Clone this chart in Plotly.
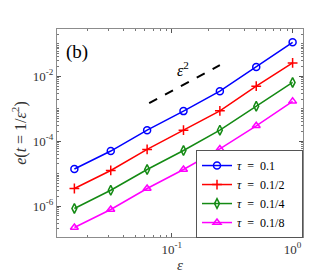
import plotly.graph_objects as go

eps = [1/64, 1/32, 1/16, 1/8, 1/4, 1/2, 1]
err_tau1 = [1.4e-5, 5.0e-5, 2.2e-4, 8.5e-4, 3.5e-3, 1.95e-2, 0.112]
err_tau2 = [3.5e-6, 1.26e-5, 5.6e-5, 2.2e-4, 8.7e-4, 5.0e-3, 0.026]
err_tau4 = [8.5e-7, 3.1e-6, 1.35e-5, 5.2e-5, 2.2e-4, 1.2e-3, 6.5e-3]
err_tau8 = [2.2e-7, 7.9e-7, 3.5e-6, 1.35e-5, 5.8e-5, 3.0e-4, 1.7e-3]
labels = ["<i>τ</i>\u2002=\u20020.1\u2003", "<i>τ</i>\u2002=\u20020.1/2\u2003",
          "<i>τ</i>\u2002=\u20020.1/4\u2003", "<i>τ</i>\u2002=\u20020.1/8\u2003"]
ref_x = [0.065, 0.25]
ref_y = [0.355 * x**2 for x in ref_x]

colors = ["#0000ff", "#ff0000", "#138a13", "#ff00ff"]
symbols = ["circle-open", "cross-thin-open", "diamond-tall-open", "triangle-up-open"]
series = [err_tau1, err_tau2, err_tau4, err_tau8]

fig = go.Figure()
for y, c, s, lab in zip(series, colors, symbols, labels):
    fig.add_trace(go.Scatter(
        x=eps, y=y, mode="lines+markers", name=lab,
        line=dict(color=c, width=1.5),
        marker=dict(symbol=s, size=7, color=c, line=dict(color=c, width=1.5)),
    ))

fig.add_trace(go.Scatter(x=ref_x, y=ref_y, mode="lines", showlegend=False,
                         line=dict(color="black", width=2, dash="dash")))

fig.add_annotation(x=-0.91, y=-1.77, xref="x", yref="y", text="<i>ε</i><sup>2</sup>",
                   showarrow=False, font=dict(size=16, family="Liberation Serif", color="black"))
fig.add_annotation(x=0.03, y=0.95, xref="paper", yref="paper", text="(b)",
                   showarrow=False, xanchor="left", yanchor="top",
                   font=dict(size=19, family="Liberation Serif", color="black"))

minor_x = [m * 10**k for k in (-2, -1) for m in range(1, 10)] + [1]
minor_y = [m * 10**k for k in range(-7, 0) for m in range(1, 10)]

axis_common = dict(
    showgrid=False, zeroline=False, showline=True, linecolor="#8c8c8c", linewidth=1,
    mirror="ticks", ticks="inside", ticklen=4, tickcolor="#555555",
    tickfont=dict(family="Liberation Serif", size=13, color="#333333"),
)

fig.update_xaxes(type="log", range=[-1.95, 0.086],
                 tickvals=[0.1, 1], ticktext=["10<sup>-1</sup>", "10<sup>0</sup>"],
                 minor=dict(tickvals=minor_x, ticks="inside", ticklen=2, tickcolor="#777777"),
                 title=dict(text="<i>ε</i>", font=dict(family="Liberation Serif", size=15, color="#333333"), standoff=2),
                 **axis_common)
fig.update_yaxes(type="log", range=[-6.95, -0.54],
                 tickvals=[1e-6, 1e-4, 1e-2],
                 ticktext=["10<sup>-6</sup>", "10<sup>-4</sup>", "10<sup>-2</sup>"],
                 minor=dict(tickvals=minor_y, ticks="inside", ticklen=2, tickcolor="#777777"),
                 title=dict(text="<i>e</i>(<i>t</i> = 1/<i>ε</i><sup>2</sup>)",
                            font=dict(family="Liberation Serif", size=16, color="#333333"), standoff=2),
                 **axis_common)

fig.update_layout(
    width=327, height=273,
    margin=dict(l=42, r=32, t=21, b=34),
    paper_bgcolor="white", plot_bgcolor="white",
    legend=dict(x=1, y=-0.005, xanchor="right", yanchor="bottom",
                bgcolor="white", bordercolor="#555555", borderwidth=1,
                font=dict(family="Liberation Serif", size=12, color="black"),
                itemwidth=30),
    showlegend=True,
)

fig.write_html("out.html")
